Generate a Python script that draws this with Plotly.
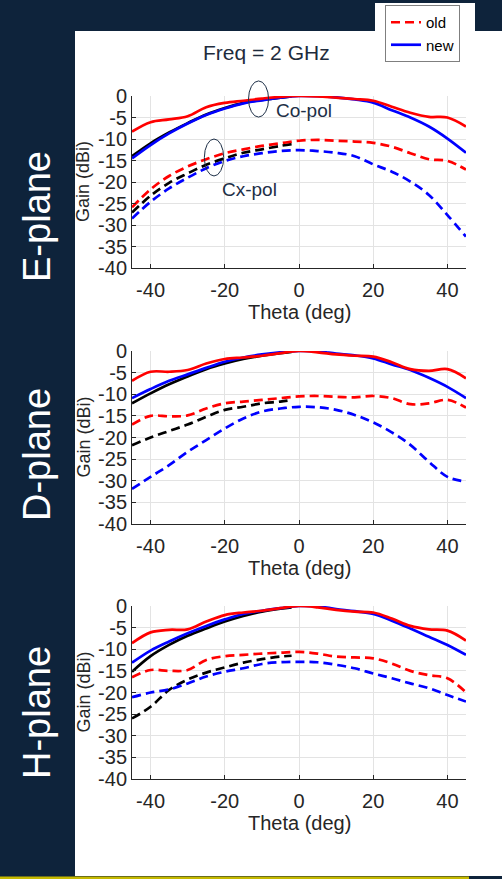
import plotly.graph_objects as go

# ---------------- data ----------------
theta = [-45, -40, -35, -30, -25, -20, -15, -10, -5, 0, 5, 10, 15, 20, 25, 30, 35, 40, 45]
theta_half = [-45, -40, -35, -30, -25, -20, -15, -10, -5, -2]

# E-plane
e_old_co = [-8.3, -6.1, -5.45, -4.7, -2.6, -1.6, -1.1, -0.6, -0.2, 0, -0.1, -0.4, -0.7, -1.1, -2.5, -3.9, -4.85, -5.0, -7.1]
e_new_co = [-14.5, -11.4, -8.7, -6.4, -4.4, -2.9, -1.7, -1.0, -0.4, 0, -0.05, -0.3, -0.8, -1.55, -3.3, -5.0, -7.1, -9.9, -13.2]
e_ref_co = [-14.0, -11.0, -8.5, -6.3, -4.3, -2.8, -1.6, -0.9, -0.4, -0.1]
e_old_cx = [-25.9, -21.7, -18.6, -16.4, -14.7, -13.3, -12.4, -11.6, -11.0, -10.4, -10.2, -10.4, -10.6, -10.9, -11.8, -13.3, -14.7, -15.1, -17.1]
e_ref_cx = [-27.1, -23.2, -20.2, -18.0, -16.0, -14.5, -13.2, -12.4, -11.6, -11.2]
e_new_cx = [-28.5, -24.6, -21.5, -19.0, -16.8, -15.1, -14.0, -13.3, -12.8, -12.6, -12.8, -13.2, -14.0, -15.9, -17.6, -19.9, -23.0, -27.7, -32.7]

# D-plane
d_old_co = [-6.9, -4.8, -4.8, -4.4, -2.9, -1.85, -1.5, -1.1, -0.5, 0, -0.3, -0.8, -1.1, -1.3, -2.6, -4.2, -4.6, -4.2, -6.3]
d_new_co = [-10.9, -8.8, -6.9, -5.4, -3.9, -2.5, -1.5, -0.8, -0.3, 0, -0.1, -0.6, -1.0, -1.7, -3.1, -4.4, -6.2, -8.3, -10.9]
d_ref_co = [-12.1, -9.8, -7.7, -5.9, -4.2, -2.9, -1.85, -1.1, -0.5, -0.2]
d_old_cx = [-17.0, -15.0, -15.1, -14.9, -13.3, -12.1, -11.7, -11.3, -10.9, -10.5, -10.4, -10.6, -10.7, -10.4, -10.9, -12.3, -12.1, -11.3, -13.1]
d_ref_cx = [-21.8, -20.0, -18.5, -17.0, -15.2, -13.6, -12.9, -12.1, -11.7, -11.3]
d_new_cx = [-31.9, -29.1, -26.4, -23.3, -20.6, -17.9, -15.6, -14.0, -13.3, -12.9, -13.0, -13.6, -14.8, -16.5, -18.8, -21.7, -25.6, -29.1, -30.2]

# H-plane
h_old_co = [-8.6, -6.1, -5.5, -5.4, -3.6, -2.1, -1.5, -1.1, -0.5, 0, -0.3, -0.9, -1.3, -1.5, -2.9, -4.6, -5.4, -5.7, -8.0]
h_new_co = [-13.1, -10.3, -8.2, -6.3, -4.6, -3.1, -1.85, -1.1, -0.5, 0, -0.1, -0.7, -1.2, -1.85, -3.4, -5.2, -7.1, -9.0, -11.3]
h_ref_co = [-15.2, -11.6, -9.0, -6.9, -5.2, -3.6, -2.3, -1.3, -0.6, -0.3]
h_old_cx = [-16.5, -14.8, -15.0, -14.8, -12.5, -11.6, -11.3, -11.0, -10.8, -10.6, -11.0, -11.7, -11.9, -12.1, -13.3, -15.0, -16.0, -16.7, -20.0]
h_ref_cx = [-26.0, -23.3, -19.4, -17.0, -15.4, -14.2, -13.1, -12.3, -11.7, -11.5]
h_new_cx = [-21.1, -20.0, -19.3, -17.9, -16.3, -15.2, -14.4, -13.4, -13.0, -12.9, -13.0, -13.6, -14.4, -15.6, -16.7, -17.9, -19.0, -20.6, -22.1]

panels = ["E-plane", "D-plane", "H-plane"]
x_ticks = [-40, -20, 0, 20, 40]
x_ticklabels = ["-40", "-20", "0", "20", "40"]
y_ticks = [0, -5, -10, -15, -20, -25, -30, -35, -40]
y_ticklabels = ["0", "-5", "-10", "-15", "-20", "-25", "-30", "-35", "-40"]
x_range = [-45, 45]
y_range = [-40, 0]

# annotation ellipses on E-plane (center x, center y, half-width, half-height) in data units
ellipses = [(-10.9, -0.7, 2.7, 4.2), (-22.9, -14.3, 2.6, 4.3)]

# ---------------- style ----------------
W, H = 502, 879
NAVY = "#0e233b"
TXT = "#262626"
FONT = "Liberation Sans, Arial, sans-serif"
LW = 2.7
DASH = "9px,5px"

def fx(px):
    return px / W

def fy(py):
    return 1 - py / H

# plot areas in pixels (top, bottom)
plot_x = (132, 466)
plot_y = [(96, 268), (351, 524), (606, 779)]

fig = go.Figure()

data_sets = [
    (e_old_co, e_new_co, e_ref_co, e_old_cx, e_new_cx, e_ref_cx),
    (d_old_co, d_new_co, d_ref_co, d_old_cx, d_new_cx, d_ref_cx),
    (h_old_co, h_new_co, h_ref_co, h_old_cx, h_new_cx, h_ref_cx),
]

for i, (oco, nco, rco, ocx, ncx, rcx) in enumerate(data_sets):
    xa = "x" if i == 0 else f"x{i+1}"
    ya = "y" if i == 0 else f"y{i+1}"
    common = dict(xaxis=xa, yaxis=ya, mode="lines", hoverinfo="skip")
    fig.add_trace(go.Scatter(x=theta_half, y=rco, line=dict(color="black", width=LW, shape="spline"), showlegend=False, **common))
    fig.add_trace(go.Scatter(x=theta_half, y=rcx, line=dict(color="black", width=LW, shape="spline", dash=DASH), showlegend=False, **common))
    fig.add_trace(go.Scatter(x=theta, y=ncx, line=dict(color="blue", width=LW, shape="spline", dash=DASH), showlegend=False, **common))
    fig.add_trace(go.Scatter(x=theta, y=nco, line=dict(color="blue", width=LW, shape="spline"),
                             name="new", showlegend=(i == 0), legendrank=2, **common))
    fig.add_trace(go.Scatter(x=theta, y=ocx, line=dict(color="red", width=LW, shape="spline", dash=DASH),
                             name="old", showlegend=(i == 0), legendrank=1, **common))
    fig.add_trace(go.Scatter(x=theta, y=oco, line=dict(color="red", width=LW, shape="spline"), showlegend=False, **common))

axis_common = dict(
    showline=True, linecolor=TXT, linewidth=1, mirror=False,
    ticks="inside", ticklen=4, tickcolor=TXT,
    showgrid=True, gridcolor="#e3e3e3", gridwidth=1, zeroline=False,
    tickfont=dict(family=FONT, size=20, color=TXT), automargin=False,
)

layout = dict(
    width=W, height=H,
    margin=dict(l=0, r=0, t=0, b=0, pad=0, autoexpand=False),
    paper_bgcolor=NAVY, plot_bgcolor="white",
    showlegend=True,
    legend=dict(x=fx(385), y=fy(5), xanchor="left", yanchor="top",
                bgcolor="white", bordercolor="#7f7f7f", borderwidth=1,
                font=dict(family=FONT, size=15, color="black"),
                traceorder="normal", tracegroupgap=0, itemwidth=30),
)

for i, (t, b) in enumerate(plot_y):
    sx = "xaxis" if i == 0 else f"xaxis{i+1}"
    sy = "yaxis" if i == 0 else f"yaxis{i+1}"
    ya = "y" if i == 0 else f"y{i+1}"
    xa = "x" if i == 0 else f"x{i+1}"
    layout[sx] = dict(domain=[fx(plot_x[0]), fx(plot_x[1])], range=x_range, anchor=ya,
                      tickvals=x_ticks, ticktext=x_ticklabels, ticklabelstandoff=4, **axis_common)
    layout[sy] = dict(domain=[fy(b), fy(t)], range=y_range, anchor=xa,
                      tickvals=y_ticks, ticktext=y_ticklabels, **axis_common)

fig.update_layout(**layout)

shapes = [
    # white panel
    dict(type="rect", xref="paper", yref="paper", x0=fx(75), x1=1, y0=fy(876), y1=fy(31),
         fillcolor="white", line=dict(width=0), layer="below"),
    # white patch behind legend
    dict(type="rect", xref="paper", yref="paper", x0=fx(375), x1=fx(475), y0=fy(31), y1=fy(3),
         fillcolor="white", line=dict(width=0), layer="below"),
    # bottom yellow rule
    dict(type="rect", xref="paper", yref="paper", x0=0, x1=fx(469), y0=0, y1=fy(876.5),
         fillcolor="#c6b900", line=dict(width=0), layer="below"),
]
for (cx, cy, rx, ry) in ellipses:
    shapes.append(dict(type="circle", xref="x domain", yref="y domain",
                       x0=(cx - rx - x_range[0]) / (x_range[1] - x_range[0]),
                       x1=(cx + rx - x_range[0]) / (x_range[1] - x_range[0]),
                       y0=(cy - ry - y_range[0]) / (y_range[1] - y_range[0]),
                       y1=(cy + ry - y_range[0]) / (y_range[1] - y_range[0]),
                       line=dict(color="#1d2f47", width=1), layer="above"))
fig.update_layout(shapes=shapes)

C = dict(xanchor="center", yanchor="middle", showarrow=False)
ann = []
ann.append(dict(text="Freq = 2 GHz", x=fx(266), y=fy(53), xref="paper", yref="paper",
                font=dict(family=FONT, size=21, color="#1e2b3c"), **C))
ann.append(dict(text="Co-pol", x=-6.8, y=-3.4, xref="x", yref="y", xanchor="left", yanchor="middle",
                showarrow=False, font=dict(family=FONT, size=19, color="#1d2f47")))
ann.append(dict(text="Cx-pol", x=-21.3, y=-21.8, xref="x", yref="y", xanchor="left", yanchor="middle",
                showarrow=False, font=dict(family=FONT, size=19, color="#1d2f47")))
label_y = [217, 455, 713]
for i, (t, b) in enumerate(plot_y):
    ann.append(dict(text="Gain (dBi)", x=fx(83), y=fy((t + b) / 2), xref="paper", yref="paper",
                    textangle=-90, font=dict(family=FONT, size=18, color=TXT), **C))
    ann.append(dict(text="Theta (deg)", x=fx((plot_x[0] + plot_x[1]) / 2), y=fy(b + 44), xref="paper", yref="paper",
                    font=dict(family=FONT, size=20, color=TXT), **C))
    ann.append(dict(text=panels[i], x=fx(37), y=fy(label_y[i]), xref="paper", yref="paper",
                    textangle=-90, font=dict(family=FONT, size=38, color="white"), **C))
fig.update_layout(annotations=ann)

fig.write_html("out.html", config={"displayModeBar": False},
               post_script="document.body.style.margin='0';")
